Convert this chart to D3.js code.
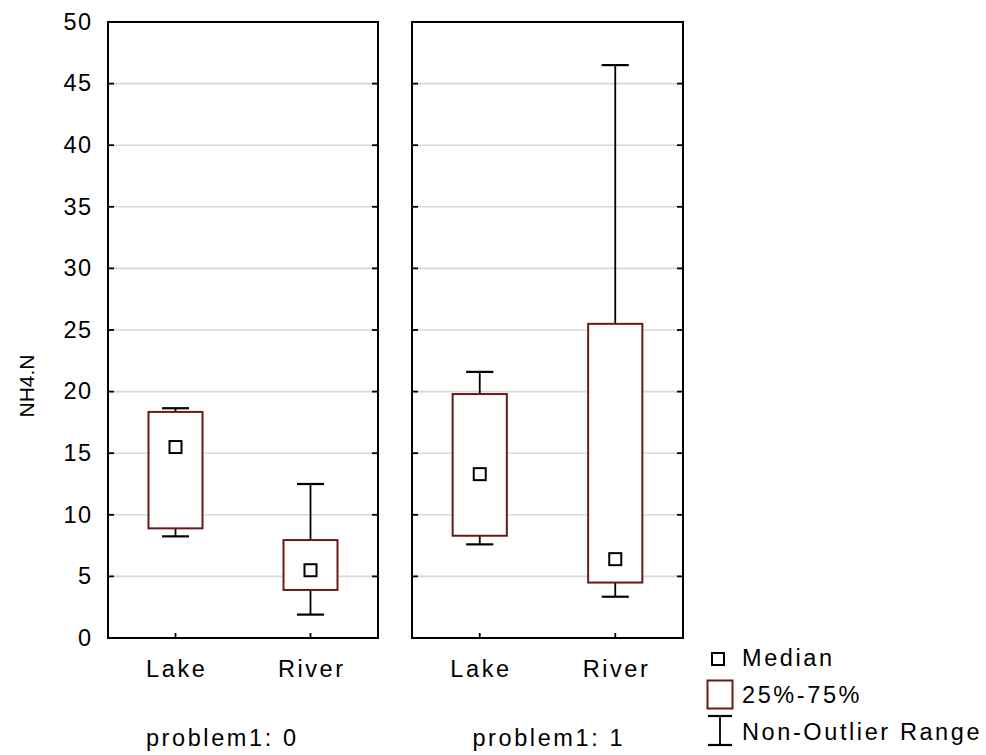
<!DOCTYPE html>
<html><head><meta charset="utf-8">
<script src="https://cdn.jsdelivr.net/npm/d3@7"></script>
<style>
html,body{margin:0;padding:0;background:#fff;}
text{font-family:Arial,"Liberation Sans",sans-serif;fill:#000;}
</style></head>
<body><svg id="c" width="986" height="755"></svg>
<script>
// ---- data ----
const groups = ["problem1: 0", "problem1: 1"];
const categories = ["Lake", "River"];
const medians     = [[15.5, 5.5], [13.3, 6.4]];
const q1          = [[8.9, 3.9],  [8.3, 4.5]];
const q3          = [[18.35, 7.95], [19.8, 25.5]];
const whiskerLow  = [[8.25, 1.9], [7.6, 3.35]];
const whiskerHigh = [[18.65, 12.5], [21.6, 46.5]];
const yTicks = [0, 5, 10, 15, 20, 25, 30, 35, 40, 45, 50];
const yLabel = "NH4.N";
const legendItems = ["Median", "25%-75%", "Non-Outlier Range"];

// ---- layout ----
const svg = d3.select("#c");
const plotTop = 22, plotBottom = 638;
const panels = [{x0:108, x1:378, labelX:221}, {x0:412, x1:683, labelX:547.5}];
const y = d3.scaleLinear().domain([0, 50]).range([plotBottom, plotTop]);
const boxColor = "#6a1a1a";
const FS = 23.5, LS = 2.6;

// y label
svg.append("text")
  .attr("transform", `translate(34,${(plotTop+plotBottom)/2 + 56}) rotate(-90)`)
  .attr("text-anchor", "middle")
  .style("font-size", "21px")
  .text(yLabel);

// y tick labels
svg.append("g").selectAll("text").data(yTicks).join("text")
  .attr("x", 90 + LS).attr("y", d => y(d)).attr("dy", "0.33em")
  .attr("text-anchor", "end")
  .style("font-size", FS + "px").style("letter-spacing", "1.5px")
  .text(d => d);

panels.forEach((p, gi) => {
  const x = d3.scalePoint().domain(categories).range([p.x0, p.x1]).padding(0.5);
  const step = x.step();
  const g = svg.append("g");
  const tk = yTicks.filter(t => t > 0 && t < 50);

  // grid
  g.selectAll("line.grid").data(tk).join("line")
    .attr("x1", p.x0).attr("x2", p.x1)
    .attr("y1", d => y(d)).attr("y2", d => y(d))
    .attr("stroke", "#d8d8d8").attr("stroke-width", 1.6);

  // y ticks inward on both sides
  g.append("g").selectAll("line").data(tk).join("line")
    .attr("x1", p.x0).attr("x2", p.x0 + 6)
    .attr("y1", d => y(d)).attr("y2", d => y(d))
    .attr("stroke", "#000").attr("stroke-width", 1.8);
  g.append("g").selectAll("line").data(tk).join("line")
    .attr("x1", p.x1 - 6).attr("x2", p.x1)
    .attr("y1", d => y(d)).attr("y2", d => y(d))
    .attr("stroke", "#000").attr("stroke-width", 1.8);
  // x ticks
  g.append("g").selectAll("line").data(categories).join("line")
    .attr("x1", d => x(d)).attr("x2", d => x(d))
    .attr("y1", plotBottom).attr("y2", plotBottom - 5)
    .attr("stroke", "#000").attr("stroke-width", 1.8);

  const bw = step * 0.4, cw = step * 0.2;
  categories.forEach((c, ci) => {
    const cx = x(c);
    [[q3[gi][ci], whiskerHigh[gi][ci]], [q1[gi][ci], whiskerLow[gi][ci]]].forEach(([a, b]) => {
      g.append("line").attr("x1", cx).attr("x2", cx).attr("y1", y(a)).attr("y2", y(b))
        .attr("stroke", "#000").attr("stroke-width", 1.8);
      g.append("line").attr("x1", cx - cw/2).attr("x2", cx + cw/2).attr("y1", y(b)).attr("y2", y(b))
        .attr("stroke", "#000").attr("stroke-width", 2.2);
    });
    g.append("rect").attr("x", cx - bw/2).attr("y", y(q3[gi][ci]))
      .attr("width", bw).attr("height", y(q1[gi][ci]) - y(q3[gi][ci]))
      .attr("fill", "#fff").attr("stroke", boxColor).attr("stroke-width", 2);
    g.append("rect").attr("x", cx - 6).attr("y", y(medians[gi][ci]) - 6)
      .attr("width", 12).attr("height", 12)
      .attr("fill", "#fff").attr("stroke", "#000").attr("stroke-width", 2);
  });

  // frame
  g.append("rect").attr("x", p.x0).attr("y", plotTop).attr("width", p.x1 - p.x0).attr("height", plotBottom - plotTop)
    .attr("fill", "none").attr("stroke", "#000").attr("stroke-width", 2);

  // category labels
  g.append("g").selectAll("text").data(categories).join("text")
    .attr("x", d => x(d) + LS/2).attr("y", 677)
    .attr("text-anchor", "middle")
    .style("font-size", FS + "px").style("letter-spacing", LS + "px")
    .text(d => d);

  // group label
  g.append("text").attr("x", p.labelX + LS/2).attr("y", 746)
    .attr("text-anchor", "middle")
    .style("font-size", FS + "px").style("letter-spacing", LS + "px")
    .text(groups[gi]);
});

// legend
const lg = svg.append("g");
lg.append("rect").attr("x", 712).attr("y", 653).attr("width", 12).attr("height", 12)
  .attr("fill", "#fff").attr("stroke", "#000").attr("stroke-width", 2);
lg.append("rect").attr("x", 707.5).attr("y", 680.5).attr("width", 25).attr("height", 28)
  .attr("fill", "#fff").attr("stroke", boxColor).attr("stroke-width", 2);
lg.append("line").attr("x1", 720).attr("x2", 720).attr("y1", 716).attr("y2", 745).attr("stroke", "#000").attr("stroke-width", 1.8);
lg.append("line").attr("x1", 708).attr("x2", 732).attr("y1", 716).attr("y2", 716).attr("stroke", "#000").attr("stroke-width", 2.2);
lg.append("line").attr("x1", 708).attr("x2", 732).attr("y1", 745).attr("y2", 745).attr("stroke", "#000").attr("stroke-width", 2.2);
lg.append("g").selectAll("text").data(legendItems).join("text")
  .attr("x", 742).attr("y", (d, i) => [666, 703, 740][i])
  .style("font-size", FS + "px").style("letter-spacing", LS + "px")
  .text(d => d);
</script></body></html>
